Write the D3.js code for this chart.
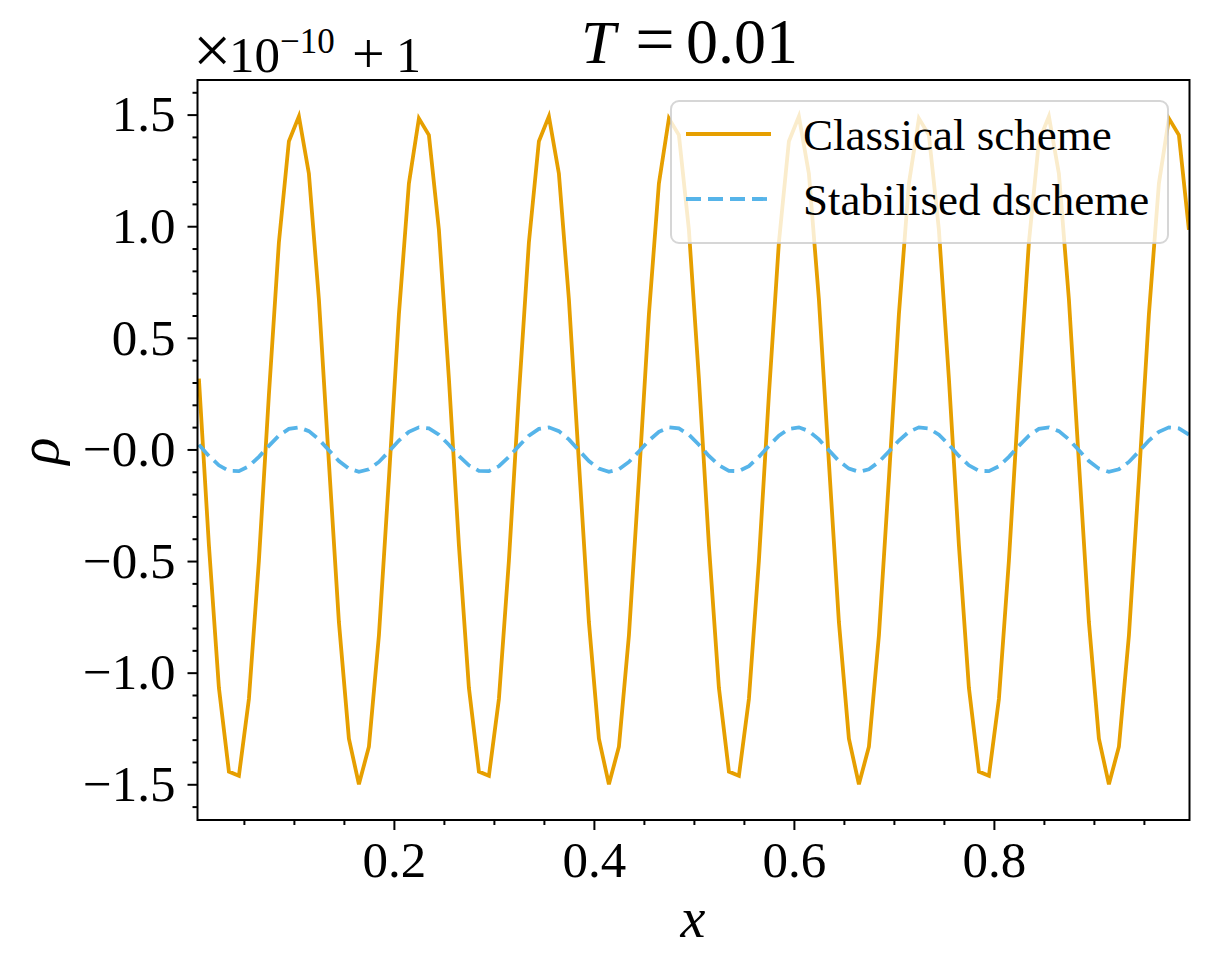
<!DOCTYPE html>
<html>
<head>
<meta charset="utf-8">
<script src="https://cdn.jsdelivr.net/npm/d3@7/dist/d3.min.js"></script>
<style>
  html, body { margin: 0; padding: 0; background: #ffffff; }
  svg { display: block; }
  text { font-family: "Liberation Serif", "DejaVu Serif", serif; fill: #000; }
</style>
</head>
<body>
<svg id="chart" width="1210" height="971"></svg>
<script>
// ---- data ----
const seriesNames = ["Classical scheme", "Stabilised dscheme"];
const classical = [
  0.317, -0.429, -1.068, -1.443, -1.462, -1.118, -0.498, 0.245, 0.928, 1.381,
  1.492, 1.235, 0.672, -0.058, -0.773, -1.296, -1.500, -1.332, -0.834, -0.131,
  0.605, 1.192, 1.483, 1.408, 0.984,
  0.317, -0.429, -1.068, -1.443, -1.462, -1.118, -0.498, 0.245, 0.928, 1.381,
  1.492, 1.235, 0.672, -0.058, -0.773, -1.296, -1.500, -1.332, -0.834, -0.131,
  0.605, 1.192, 1.483, 1.408, 0.984,
  0.317, -0.429, -1.068, -1.443, -1.462, -1.118, -0.498, 0.245, 0.928, 1.381,
  1.492, 1.235, 0.672, -0.058, -0.773, -1.296, -1.500, -1.332, -0.834, -0.131,
  0.605, 1.192, 1.483, 1.408, 0.984,
  0.317, -0.429, -1.068, -1.443, -1.462, -1.118, -0.498, 0.245, 0.928, 1.381,
  1.492, 1.235, 0.672, -0.058, -0.773, -1.296, -1.500, -1.332, -0.834, -0.131,
  0.605, 1.192, 1.483, 1.408, 0.984
];
const stabilised = [
  0.021, -0.029, -0.071, -0.096, -0.097, -0.075, -0.033, 0.016, 0.062, 0.092,
  0.099, 0.082, 0.045, -0.004, -0.052, -0.086, -0.100, -0.089, -0.056, -0.009,
  0.040, 0.079, 0.099, 0.094, 0.066,
  0.021, -0.029, -0.071, -0.096, -0.097, -0.075, -0.033, 0.016, 0.062, 0.092,
  0.099, 0.082, 0.045, -0.004, -0.052, -0.086, -0.100, -0.089, -0.056, -0.009,
  0.040, 0.079, 0.099, 0.094, 0.066,
  0.021, -0.029, -0.071, -0.096, -0.097, -0.075, -0.033, 0.016, 0.062, 0.092,
  0.099, 0.082, 0.045, -0.004, -0.052, -0.086, -0.100, -0.089, -0.056, -0.009,
  0.040, 0.079, 0.099, 0.094, 0.066,
  0.021, -0.029, -0.071, -0.096, -0.097, -0.075, -0.033, 0.016, 0.062, 0.092,
  0.099, 0.082, 0.045, -0.004, -0.052, -0.086, -0.100, -0.089, -0.056, -0.009,
  0.040, 0.079, 0.099, 0.094, 0.066
];
// cell-centre grid x = 0.005, 0.015, ..., 0.995
const xGrid = d3.range(classical.length).map(i => 0.005 + 0.01 * i);

const xMajor = [0.2, 0.4, 0.6, 0.8];
const xMajorLabels = ["0.2", "0.4", "0.6", "0.8"];
const xMinor = [0.05, 0.1, 0.15, 0.25, 0.3, 0.35, 0.45, 0.5, 0.55, 0.65, 0.7, 0.75, 0.85, 0.9, 0.95];
const yMajor = [-1.5, -1.0, -0.5, 0.0, 0.5, 1.0, 1.5];
const yMajorLabels = ["\u22121.5", "\u22121.0", "\u22120.5", "\u22120.0", "0.5", "1.0", "1.5"];
const yMinor = [-1.6, -1.4, -1.3, -1.2, -1.1, -0.9, -0.8, -0.7, -0.6, -0.4, -0.3, -0.2, -0.1,
                0.1, 0.2, 0.3, 0.4, 0.6, 0.7, 0.8, 0.9, 1.1, 1.2, 1.3, 1.4, 1.6];
const xDomain = [0.0036, 0.9956];
const yDomain = [-1.66, 1.655];

// ---- layout ----
const W = 1210, H = 971;
const L = 197.5, R = 1189.5, T = 80, B = 820;
const colors = ["#E69F00", "#56B4E9"];

const svg = d3.select("#chart");
svg.append("rect").attr("width", W).attr("height", H).attr("fill", "#fff");

const x = d3.scaleLinear().domain(xDomain).range([L, R]);
const y = d3.scaleLinear().domain(yDomain).range([B, T]);

svg.append("clipPath").attr("id", "clip")
  .append("rect").attr("x", L).attr("y", T).attr("width", R - L).attr("height", B - T);

const line = d3.line().x(d => x(d[0])).y(d => y(d[1]));
const plot = svg.append("g").attr("clip-path", "url(#clip)");

plot.append("path")
  .datum(xGrid.map((v, i) => [v, classical[i]]))
  .attr("d", line).attr("fill", "none")
  .attr("stroke", colors[0]).attr("stroke-width", 3.8)
  .attr("stroke-linejoin", "miter").attr("stroke-linecap", "butt");

plot.append("path")
  .datum(xGrid.map((v, i) => [v, stabilised[i]]))
  .attr("d", line).attr("fill", "none")
  .attr("stroke", colors[1]).attr("stroke-width", 3.8)
  .attr("stroke-dasharray", "15,7");

// ---- axes ----
function styleAxis(g) {
  g.select(".domain").remove();
  g.selectAll(".tick line").attr("stroke", "#000").attr("stroke-width", 2);
  g.selectAll(".tick text").attr("font-family", "Liberation Serif").attr("font-size", 51).attr("fill", "#000");
}
svg.append("g").attr("transform", `translate(0,${B})`)
  .call(d3.axisBottom(x).tickValues(xMinor).tickSize(5).tickFormat(""))
  .call(styleAxis);
svg.append("g").attr("transform", `translate(0,${B})`)
  .call(d3.axisBottom(x).tickValues(xMajor).tickSize(10).tickPadding(11)
        .tickFormat((d, i) => xMajorLabels[i]))
  .call(styleAxis);
svg.append("g").attr("transform", `translate(${L},0)`)
  .call(d3.axisLeft(y).tickValues(yMinor).tickSize(5).tickFormat(""))
  .call(styleAxis);
svg.append("g").attr("transform", `translate(${L},0)`)
  .call(d3.axisLeft(y).tickValues(yMajor).tickSize(10).tickPadding(12)
        .tickFormat((d, i) => yMajorLabels[i]))
  .call(styleAxis);

// frame (spines)
svg.append("rect").attr("x", L).attr("y", T).attr("width", R - L).attr("height", B - T)
  .attr("fill", "none").attr("stroke", "#000").attr("stroke-width", 2);

// ---- labels ----
svg.append("text").attr("x", 693).attr("y", 937).attr("text-anchor", "middle")
  .attr("font-size", 56).attr("font-style", "italic").text("x");

svg.append("text").attr("transform", "translate(58,451) rotate(-90)")
  .attr("text-anchor", "middle").attr("font-size", 56).attr("font-style", "italic").text("\u03C1");

// title "T = 0.01"
svg.append("text").attr("x", 581).attr("y", 63).attr("font-size", 62)
  .attr("font-style", "italic").text("T");
svg.append("text").attr("x", 655).attr("y", 63).attr("font-size", 70)
  .attr("text-anchor", "middle").text("=");
svg.append("text").attr("x", 686).attr("y", 63).attr("font-size", 64).text("0.01");

// offset text "×10^−10 + 1"
svg.append("text").attr("x", 193).attr("y", 73).attr("font-size", 68).text("\u00D7");
svg.append("text").attr("x", 229).attr("y", 72).attr("font-size", 51).text("10");
svg.append("text").attr("x", 280).attr("y", 53).attr("font-size", 35).text("\u221210");
svg.append("text").attr("x", 352).attr("y", 73).attr("font-size", 58).text("+");
svg.append("text").attr("x", 396).attr("y", 72).attr("font-size", 50).text("1");

// ---- legend ----
const lg = svg.append("g");
lg.append("rect").attr("x", 671).attr("y", 101).attr("width", 497).attr("height", 142)
  .attr("rx", 8).attr("fill", "#fff").attr("fill-opacity", 0.8)
  .attr("stroke", "#cccccc").attr("stroke-opacity", 0.8).attr("stroke-width", 2);
const legendY = [134, 199];
seriesNames.forEach((name, i) => {
  const ln = lg.append("line").attr("x1", 686).attr("x2", 771)
    .attr("y1", legendY[i]).attr("y2", legendY[i])
    .attr("stroke", colors[i]).attr("stroke-width", 3.8);
  if (i === 1) ln.attr("stroke-dasharray", "15,7");
  lg.append("text").attr("x", 803).attr("y", legendY[i] + 16)
    .attr("font-size", 45).text(name);
});
</script>
</body>
</html>
